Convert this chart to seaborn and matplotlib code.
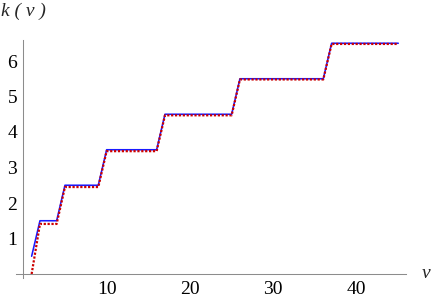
import numpy as np
import pandas as pd
import seaborn as sns
import matplotlib
matplotlib.use("Agg")
import matplotlib.pyplot as plt
from matplotlib import font_manager
from matplotlib.font_manager import FontProperties

# ---- data ----
nu = list(range(1, 46))
k_blue = ([0.5] + [1.5] * 3 + [2.5] * 5 + [3.5] * 7 + [4.5] * 9
          + [5.5] * 11 + [6.5] * 9)
k_red = ([0.0] + [1.41] * 3 + [2.45] * 5 + [3.46] * 7 + [4.47] * 9
         + [5.48] * 11 + [6.48] * 9)
x_major = [10, 20, 30, 40]
y_major = [1, 2, 3, 4, 5, 6]

sns.set_style("white")
plt.rcParams["font.family"] = "Liberation Serif"

FS = 14
reg_path = font_manager.findfont(FontProperties(family="Liberation Serif"))
ita_path = font_manager.findfont(FontProperties(family="Liberation Serif", style="italic"))
fp_reg = FontProperties(fname=reg_path, size=FS)
fp_ita = FontProperties(fname=ita_path, size=FS)

W, H = 436, 302
fig = plt.figure(figsize=(W / 100, H / 100), dpi=100)

xlim = (-0.9, 45.9)
ylim = (-0.1, 6.6)
px_per_x = 8.333
px_per_y = 35.5
x0_px, y0_px = 23.3, 274.0
left = x0_px + xlim[0] * px_per_x
right = x0_px + xlim[1] * px_per_x
top = y0_px - ylim[1] * px_per_y
bottom = y0_px - ylim[0] * px_per_y
ax = fig.add_axes([left / W, (H - bottom) / H, (right - left) / W, (bottom - top) / H])

df_blue = pd.DataFrame({"nu": nu, "k": k_blue})
df_red = pd.DataFrame({"nu": nu, "k": k_red})
sns.lineplot(data=df_blue, x="nu", y="k", ax=ax, color="#1a1aff", linewidth=1.15)
sns.lineplot(data=df_red, x="nu", y="k", ax=ax, color="#cc0000", linewidth=1.6,
             linestyle=(0, (1.0, 0.75)))

ax.set_xlim(*xlim)
ax.set_ylim(*ylim)
ax.set_xlabel("")
ax.set_ylabel("")

for s in ["top", "right"]:
    ax.spines[s].set_visible(False)
ax.spines["left"].set_position(("data", 0))
ax.spines["bottom"].set_position(("data", 0))
for s in ["left", "bottom"]:
    ax.spines[s].set_color("#8c8c8c")
    ax.spines[s].set_linewidth(0.75)

ax.set_xticks(x_major)
ax.set_xticklabels([str(v) for v in x_major])
ax.set_xticks([v for v in range(2, 46, 2) if v % 10 != 0], minor=True)
ax.set_yticks(y_major)
ax.set_yticklabels([str(v) for v in y_major])
ax.set_yticks([round(0.2 * i, 1) for i in range(1, 34) if i % 5 != 0], minor=True)
for lab in ax.get_xticklabels() + ax.get_yticklabels():
    lab.set_fontproperties(fp_reg)

ax.tick_params(axis="both", which="major", direction="in", length=3.4, width=0.6,
               color="#8c8c8c", labelcolor="black", pad=4.5)
ax.tick_params(axis="both", which="minor", direction="in", length=2.0, width=0.5,
               color="#a0a0a0")
ax.tick_params(axis="x", which="major", pad=5)
ax.grid(False)

fig.text(1 / W, 1 - 11 / H, "k ( ν )", fontproperties=fp_ita,
         ha="left", va="center")
fig.text(422 / W, 1 - 273 / H, "ν", fontproperties=fp_ita,
         ha="left", va="center")

fig.savefig("out.png", dpi=100)
